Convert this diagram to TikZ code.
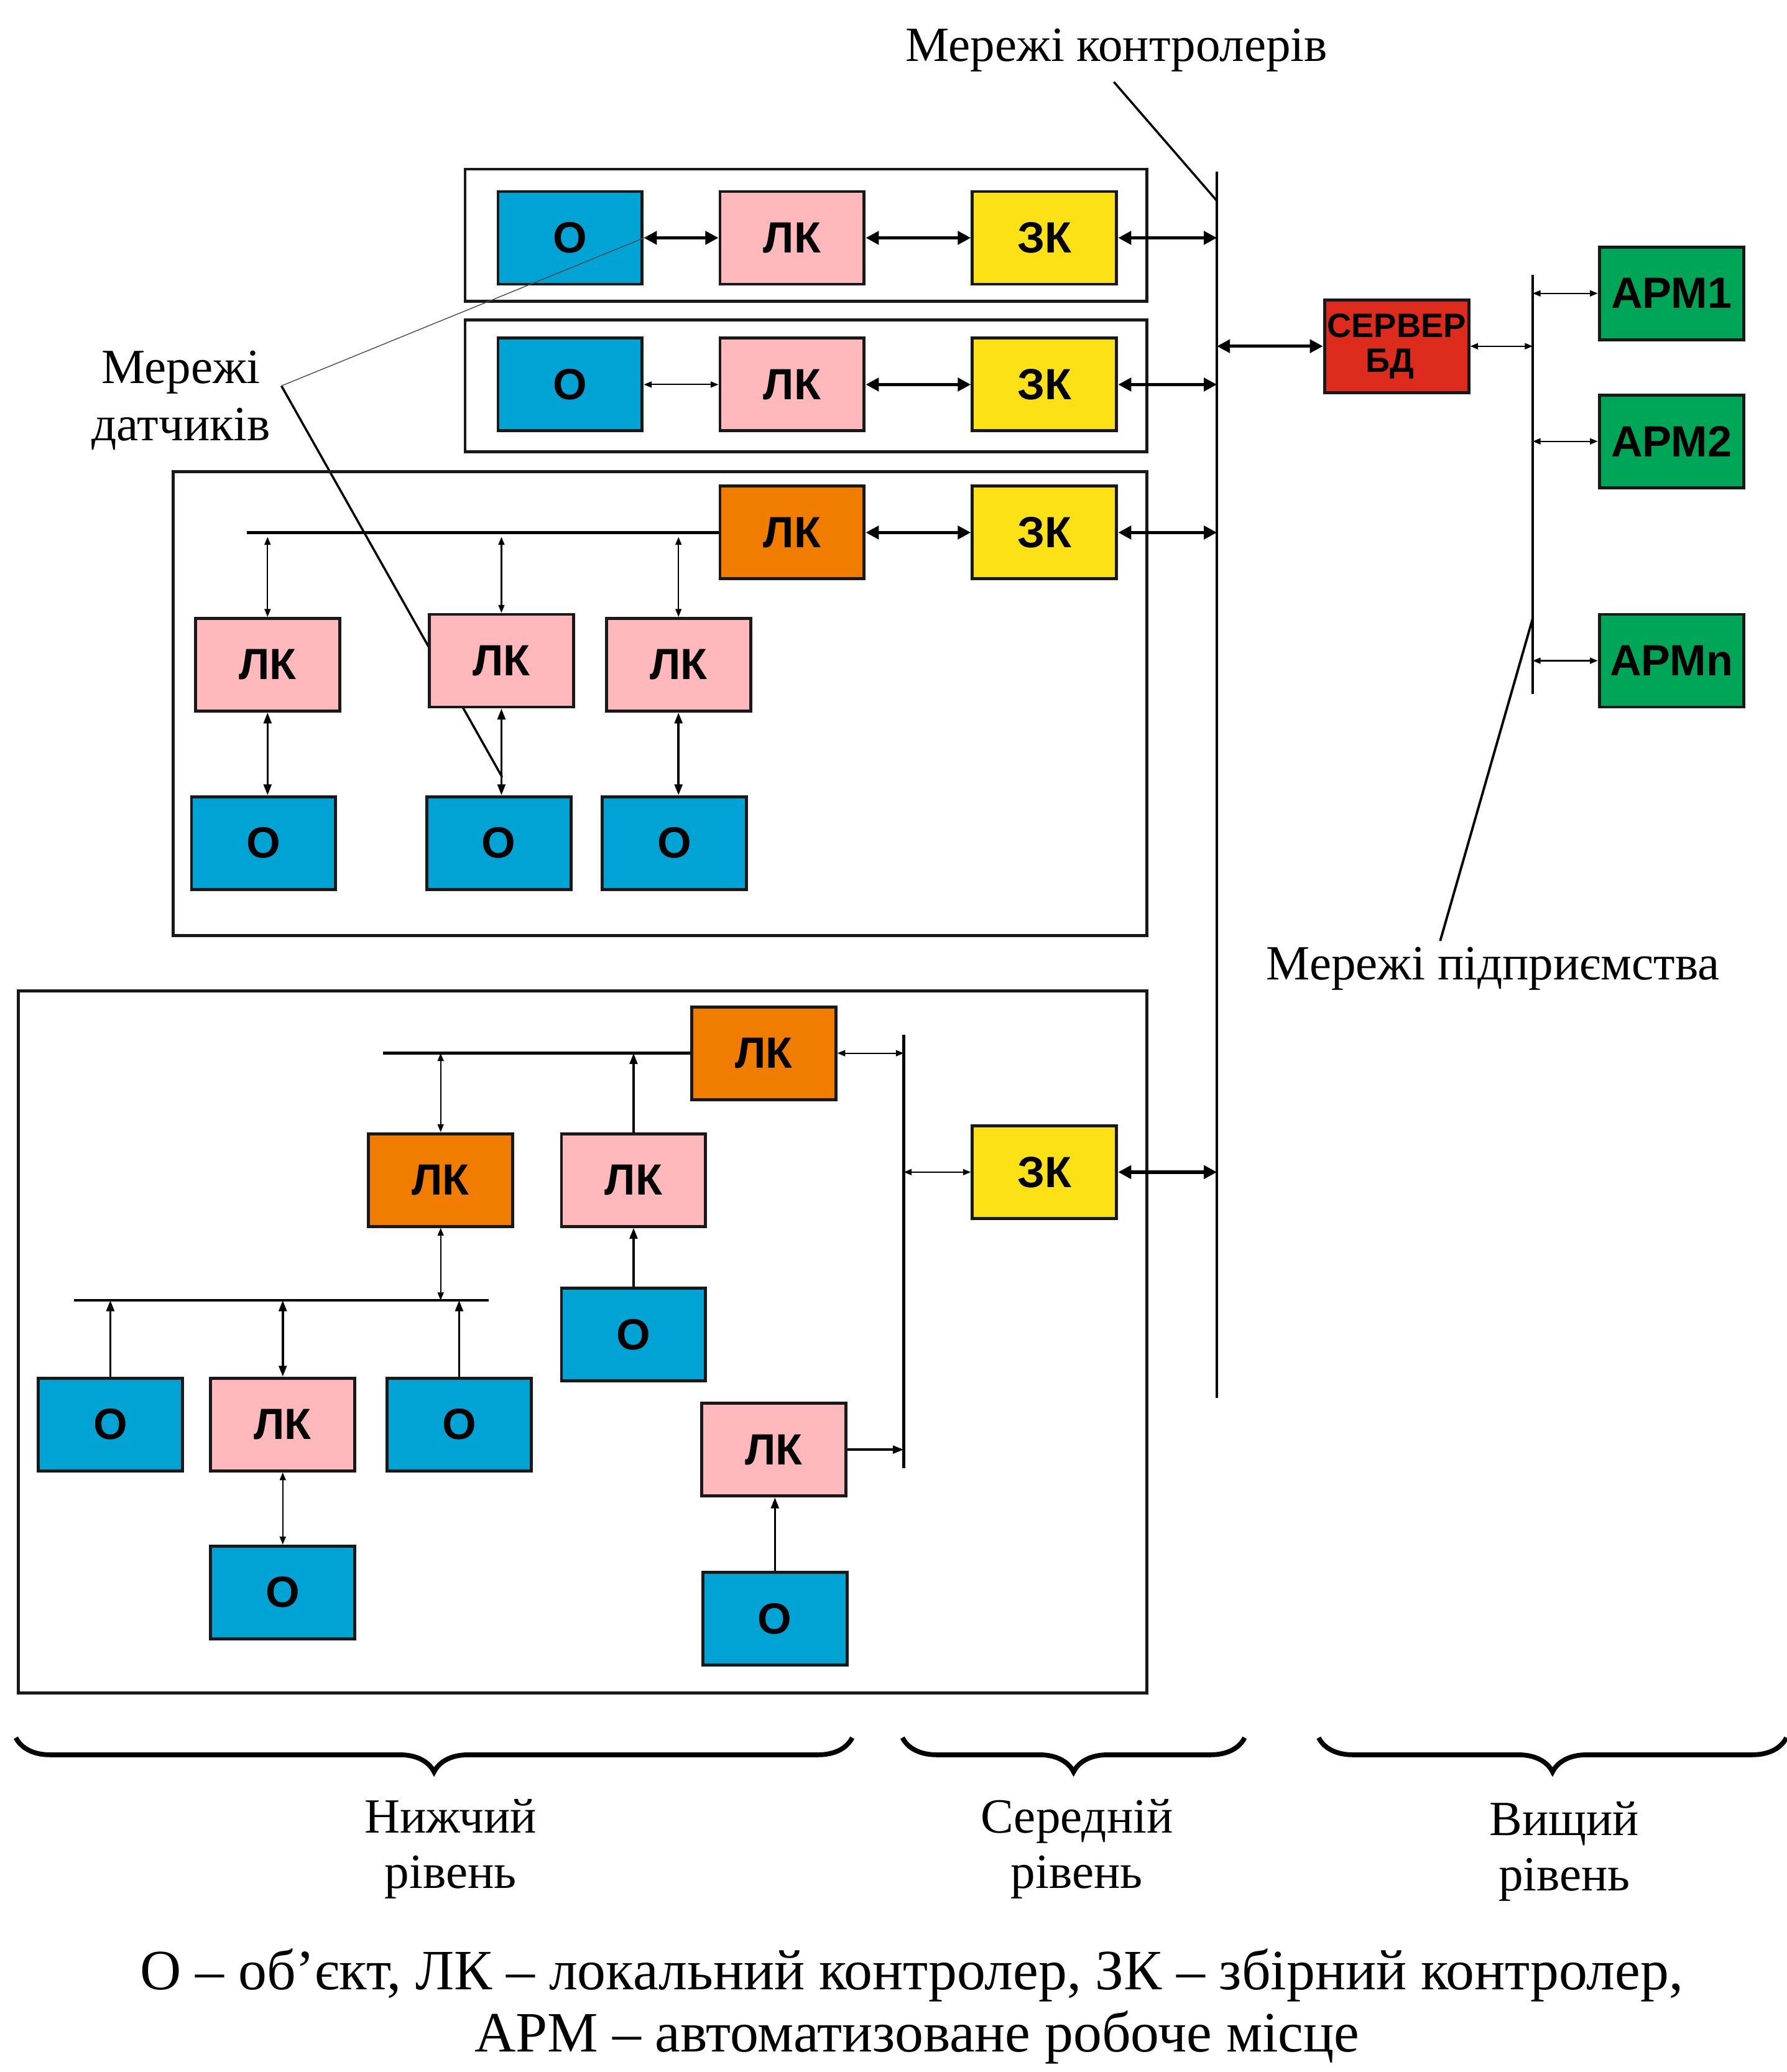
\documentclass[tikz,border=0pt]{standalone}
\usepackage{fontspec}
\setmainfont{Liberation Serif}
\newfontfamily\boxfont{Liberation Sans}
\usetikzlibrary{arrows.meta,positioning,calc,decorations.pathreplacing}

\definecolor{objblue}{RGB}{0,163,212}
\definecolor{lkpink}{RGB}{255,185,189}
\definecolor{zkyellow}{RGB}{252,225,22}
\definecolor{lkorange}{RGB}{240,125,0}
\definecolor{srvred}{RGB}{221,44,30}
\definecolor{armgreen}{RGB}{0,166,88}

\tikzset{
  blk/.style={draw=black!90, line width=1.4pt, minimum width=2.32cm, minimum height=1.49cm,
    inner sep=0pt, font=\boxfont\bfseries\fontsize{20}{20}\selectfont},
  obj/.style={blk, fill=objblue},
  lk/.style={blk, fill=lkpink},
  lkm/.style={blk, fill=lkorange},
  zk/.style={blk, fill=zkyellow},
  arm/.style={blk, fill=armgreen},
  srv/.style={blk, fill=srvred, align=center, font=\boxfont\bfseries\fontsize{15.5}{16}\selectfont},
  grpbox/.style={line width=1.4pt, draw=black!90},
  bus/.style={line width=1.3pt},
  dblbig/.style={<->, >={Triangle[length=6pt,width=6pt]}, line width=1.5pt},
  dblmid/.style={<->, >={Triangle[length=5pt,width=3.6pt]}, line width=1pt},
  dblthin/.style={<->, >={Triangle[length=3.6pt,width=2.8pt]}, line width=0.6pt},
  onemid/.style={->, >={Triangle[length=5pt,width=3.6pt]}, line width=1pt},
  lbl/.style={font=\fontsize{22.5}{26}\selectfont, align=center},
  lvl/.style={font=\fontsize{22.5}{25.3}\selectfont, align=center},
  legend/.style={font=\fontsize{26.1}{28}\selectfont}
}

\begin{document}
\begin{tikzpicture}[x=0.02125cm,y=-0.02125cm]
\useasboundingbox (0,0) rectangle (1352,1568);

% Leader behind the boxes
\coordinate (sensA) at (213,292);
\draw[line width=1pt] (sensA) -- (380,588);

% Group frames
\draw[grpbox] (352,128) rectangle (868,228);
\draw[grpbox] (352,242) rectangle (868,342);
\draw[grpbox] (131,357) rectangle (868,708);
\draw[grpbox] (14,750) rectangle (868,1281);

% Controller network and enterprise network
\coordinate (cbT) at (921,130);
\coordinate (cbB) at (921,1058);
\draw[bus] (cbT) -- (cbB);
\coordinate (ebT) at (1160,208);
\coordinate (ebB) at (1160,525);
\draw[bus] (ebT) -- (ebB);

% Row 1
\node[obj] (O1) at (431.5,180) {О};
\node[lk]  (LK1) at (599.5,180) {ЛК};
\node[zk]  (ZK1) at (790.5,180) {ЗК};
\draw[dblbig] (O1) -- (LK1);
\draw[dblbig] (LK1) -- (ZK1);
\draw[dblbig] (ZK1.east) -- (ZK1.east -| cbT);

% Row 2
\node[obj] (O2) at (431.5,291) {О};
\node[lk]  (LK2) at (599.5,291) {ЛК};
\node[zk]  (ZK2) at (790.5,291) {ЗК};
\draw[dblthin] (O2) -- (LK2);
\draw[dblbig] (LK2) -- (ZK2);
\draw[dblbig] (ZK2.east) -- (ZK2.east -| cbT);

% Group 3
\node[lkm] (LK3) at (599.5,403) {ЛК};
\node[zk]  (ZK3) at (790.5,403) {ЗК};
\draw[dblbig] (LK3) -- (ZK3);
\draw[dblbig] (ZK3.east) -- (ZK3.east -| cbT);
\coordinate (sb3) at (187,403);
\draw[bus] (sb3) -- (LK3.west);
\node[lk]  (LK3a) at (202.5,503) {ЛК};
\node[lk]  (LK3b) at (379.5,500) {ЛК};
\node[lk]  (LK3c) at (513.5,503) {ЛК};
\node[obj] (O3a) at (199.5,638) {О};
\node[obj] (O3b) at (377.5,638) {О};
\node[obj] (O3c) at (510.5,638) {О};
\foreach \n in {LK3a,LK3b,LK3c}
    \draw[dblthin, shorten <=2pt] (\n.north |- sb3) -- (\n.north);
\foreach \l/\o in {LK3a/O3a, LK3b/O3b, LK3c/O3c}
    \draw[dblmid] (\l.south) -- (\l.south |- \o.north);

% Group 4
\node[lkm] (LK4) at (578,797) {ЛК};
\node[zk]  (ZK4) at (790.5,887) {ЗК};
\node[lkm] (LK4b) at (333.5,893) {ЛК};
\node[lk]  (LK4c) at (479.5,893) {ЛК};
\node[obj] (O4c) at (479.5,1010) {О};
\node[obj] (O4a) at (83.5,1078) {О};
\node[lk]  (LK4d) at (214,1078) {ЛК};
\node[obj] (O4e) at (347.5,1078) {О};
\node[obj] (O4d) at (214,1205) {О};
\node[lk]  (LK4f) at (585.5,1097) {ЛК};
\node[obj] (O4f) at (586.5,1225) {О};
\coordinate (sb4a) at (290,797);
\draw[bus] (sb4a) -- (LK4.west);
\coordinate (vb4T) at (684,783);
\coordinate (vb4B) at (684,1111);
\draw[bus] (vb4T) -- (vb4B);
\draw[dblthin] (LK4.east) -- (LK4.east -| vb4T);
\draw[dblthin] (ZK4.west -| vb4T) -- (ZK4.west);
\draw[dblbig] (ZK4.east) -- (ZK4.east -| cbT);
\draw[dblthin] (LK4b.north |- sb4a) -- (LK4b.north);
\draw[onemid] (LK4c.north) -- (LK4c.north |- sb4a);
\draw[onemid] (O4c.north) -- (LK4c.south);
\coordinate (sb4bL) at (56,984);
\coordinate (sb4bR) at (370,984);
\draw[bus] (sb4bL) -- (sb4bR);
\draw[dblthin] (LK4b.south) -- (LK4b.south |- sb4bL);
\draw[onemid] (O4a.north) -- (O4a.north |- sb4bL);
\draw[dblmid] (LK4d.north |- sb4bL) -- (LK4d.north);
\draw[onemid] (O4e.north) -- (O4e.north |- sb4bL);
\draw[dblthin] (LK4d.south) -- (O4d.north);
\draw[onemid] (LK4f.east) -- (LK4f.east -| vb4T);
\draw[onemid] (O4f.north) -- (O4f.north |- LK4f.south);

% Server and workstations
\node[srv] (SRV) at (1057,262) {СЕРВЕР\\БД\hspace*{6pt}};
\draw[dblbig] (SRV.west -| cbT) -- (SRV.west);
\draw[dblthin] (SRV.east) -- (SRV.east -| ebT);
\node[arm] (ARM1) at (1265,222) {АРМ1};
\node[arm] (ARM2) at (1265,334) {АРМ2};
\node[arm] (ARMn) at (1265,500) {АРМn};
\foreach \a in {ARM1,ARM2,ARMn}
    \draw[dblthin] (\a.west -| ebT) -- (\a.west);

% Network labels
\node[lbl] (netctl) at (845,38) {Мережі контролерів};
\node[lbl] (netsens) at (137,303) {Мережі\\датчиків};
\node[lbl] (netent) at (1130,733) {Мережі підприємства};
\draw[line width=0.4pt, black!70] (sensA) -- (490,179);
\draw[line width=1pt] (843,62) -- (921,152);
\draw[line width=1.1pt] (1090,712) -- (1160,468);

% Levels
\draw[decorate, decoration={brace, mirror, amplitude=0.55cm}, line width=2.2pt] (12,1315) -- (645,1315);
\draw[decorate, decoration={brace, mirror, amplitude=0.55cm}, line width=2.2pt] (683,1315) -- (942,1315);
\draw[decorate, decoration={brace, mirror, amplitude=0.55cm}, line width=2.2pt] (998,1315) -- (1352,1315);
\node[lvl] (lvlLow) at (341,1399) {Нижчий\\рівень};
\node[lvl] (lvlMid) at (815,1399) {Середній\\рівень};
\node[lvl] (lvlTop) at (1184,1401) {Вищий\\рівень};

% Legend
\node[legend] (leg1) at (690,1495) {О – об'єкт, ЛК – локальний контролер, ЗК – збірний контролер,};
\node[legend] (leg2) at (694,1542) {АРМ – автоматизоване робоче місце};
\end{tikzpicture}
\end{document}
